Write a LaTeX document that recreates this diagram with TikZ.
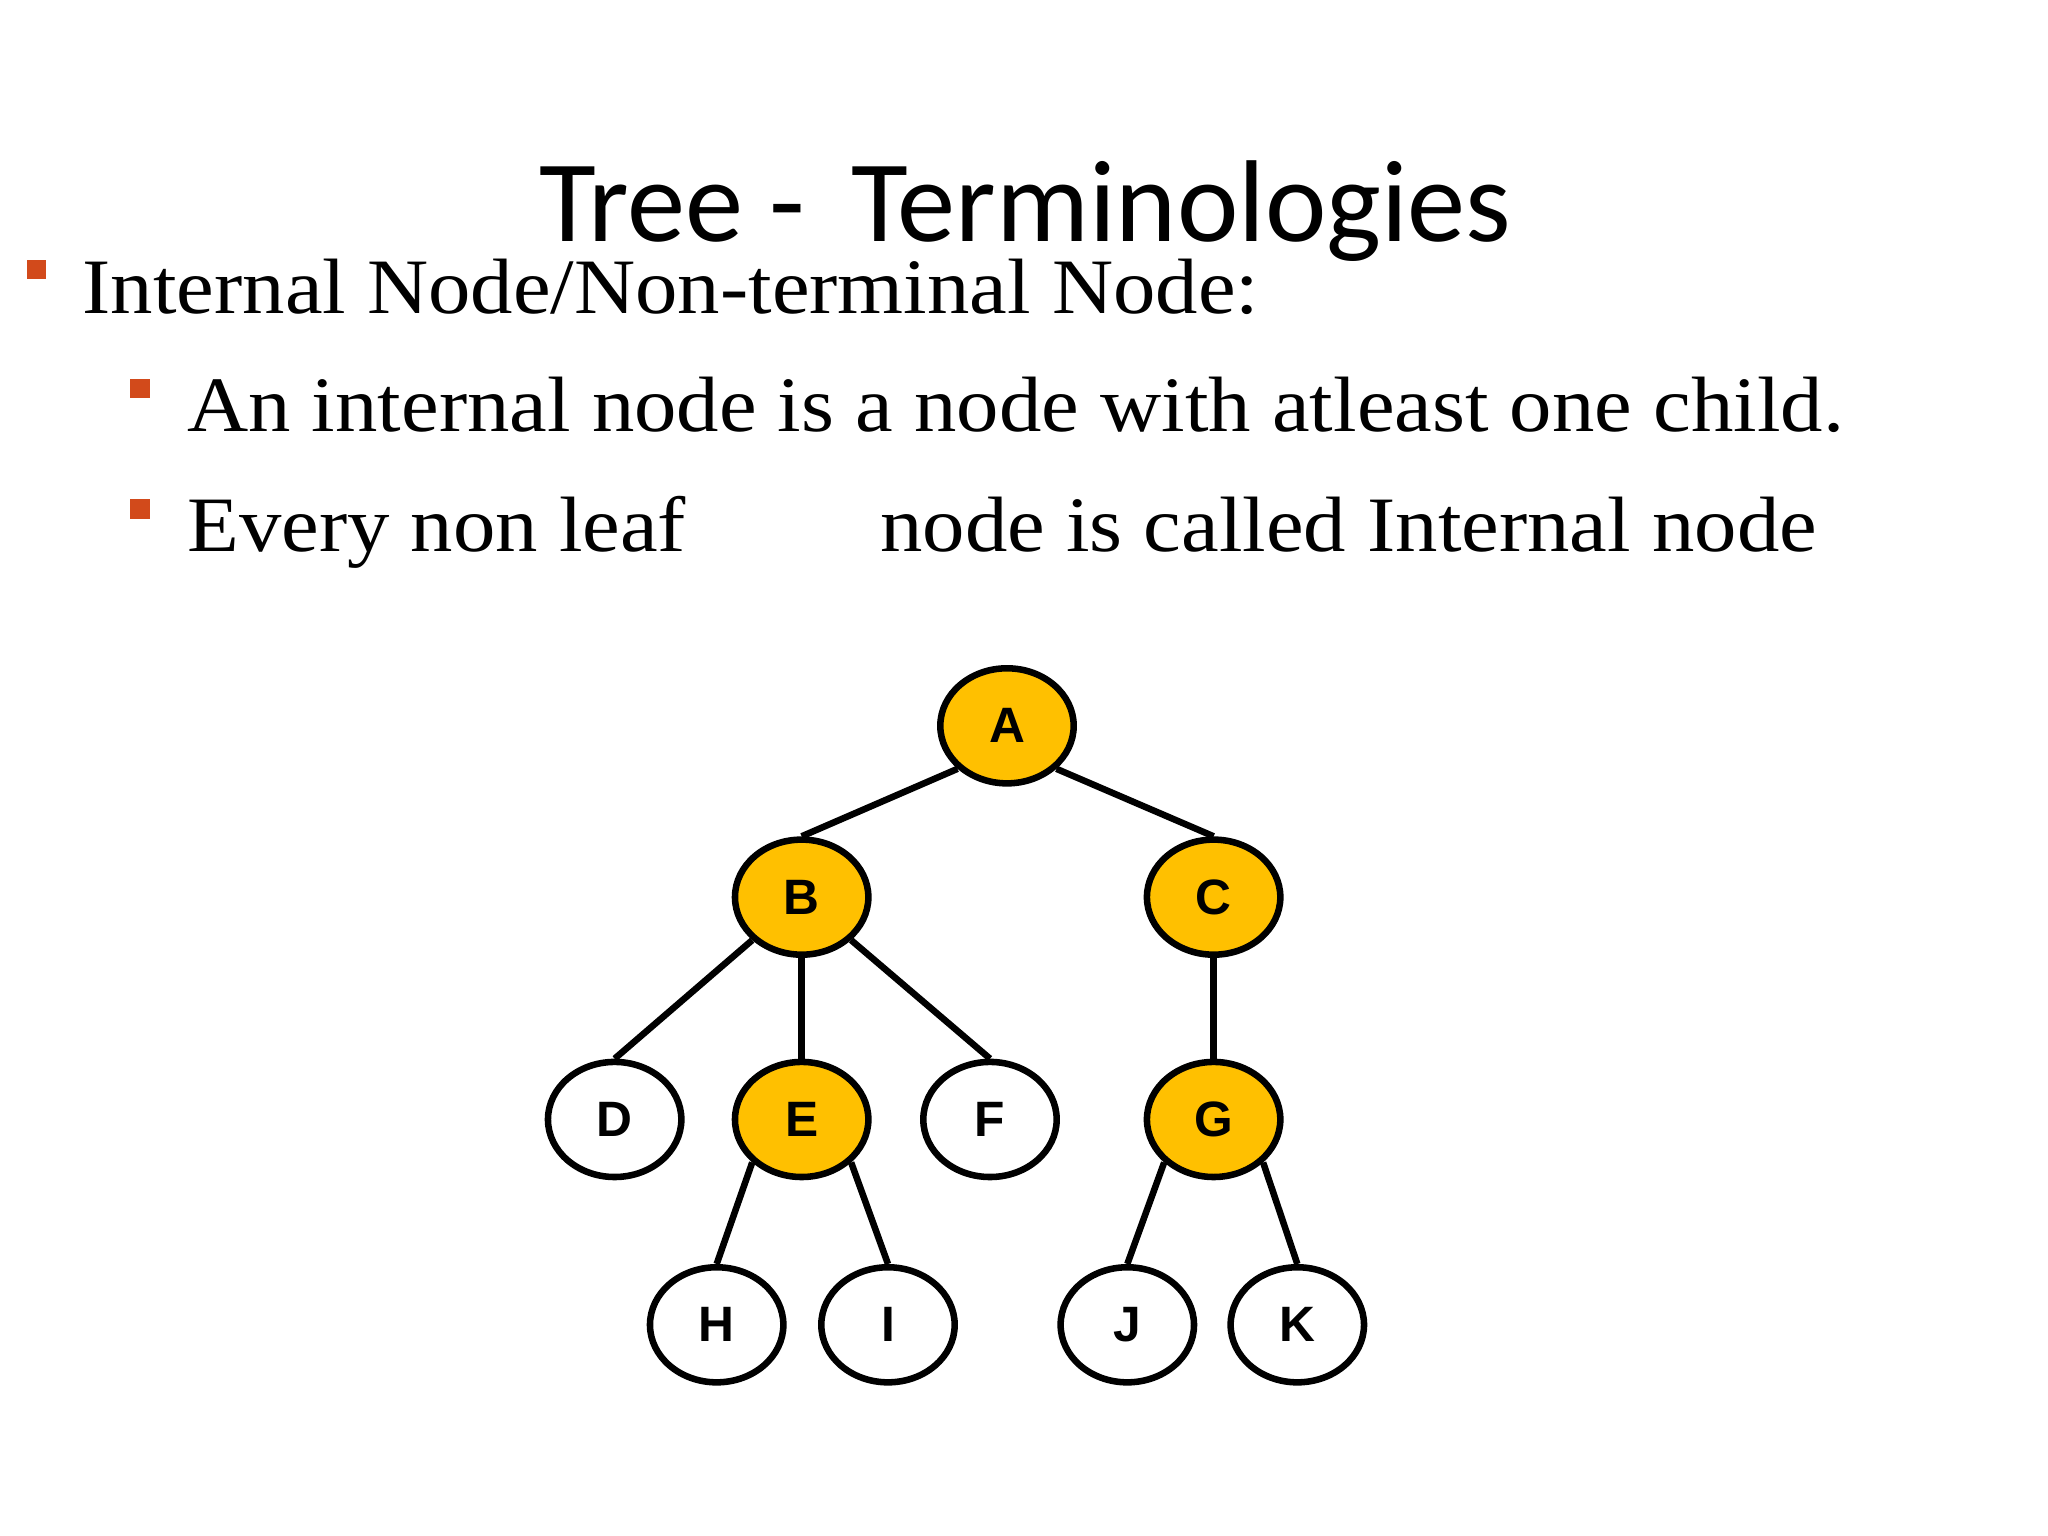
\documentclass[tikz,border=0pt]{standalone}
\usepackage{fontspec}
\setmainfont[FakeStretch=1.08]{Liberation Serif}
\newfontfamily\titlefont{Carlito}
\newfontfamily\lblfont{Liberation Sans}
\definecolor{gold}{HTML}{FFC000}
\definecolor{bul}{HTML}{D24A1B}
\usetikzlibrary{shapes.geometric}
\begin{document}
\begin{tikzpicture}[x=1pt,y=-1pt,
  tn/.style={ellipse,draw=black,line width=5pt,minimum width=102pt,minimum height=88pt,inner sep=0pt,font=\lblfont\bfseries\fontsize{38}{38}\selectfont},
  inn/.style={tn,fill=gold},
  lf/.style={tn,fill=white},
  edge/.style={line width=5pt},
  txt/.style={anchor=base west,inner sep=0pt,font=\fontsize{60}{60}\selectfont},
  sq/.style={fill=bul,minimum size=15pt,inner sep=0pt}]
\useasboundingbox (0,0) rectangle (1566,1174.5);
\node[anchor=base,inner sep=0pt,font=\titlefont\fontsize{89}{89}\selectfont] (title) at (784,185) {Tree -\, Terminologies};
\node[sq] (b1) at (28,206) {};
\node[txt] (t1) at (63,240) {Internal Node/Non-terminal Node:};
\node[sq] (b2) at (107,297) {};
\node[txt] (t2) at (143,330) {An internal node is a node with atleast one child.};
\node[sq] (b3) at (107,389) {};
\node[txt] (t3) at (143,422) {Every non leaf};
\node[txt] (t4) at (673,422) {node is called Internal node};
\node[inn] (A) at (770,555) {A};
\node[inn] (B) at (613,686) {B};
\node[inn] (C) at (928,686) {C};
\node[lf] (D) at (470,856) {D};
\node[inn] (E) at (613,856) {E};
\node[lf] (F) at (757,856) {F};
\node[inn] (G) at (928,856) {G};
\node[lf] (H) at (548,1013) {H};
\node[lf] (I) at (679,1013) {I};
\node[lf] (J) at (862,1013) {J};
\node[lf] (K) at (992,1013) {K};
\foreach \a/\p/\b in {A/south west/B,A/south east/C,B/south west/D,B/south/E,B/south east/F,C/south/G,E/south west/H,E/south east/I,G/south west/J,G/south east/K}
  \draw[edge] (\a.\p) -- (\b.north);
\end{tikzpicture}
\end{document}
